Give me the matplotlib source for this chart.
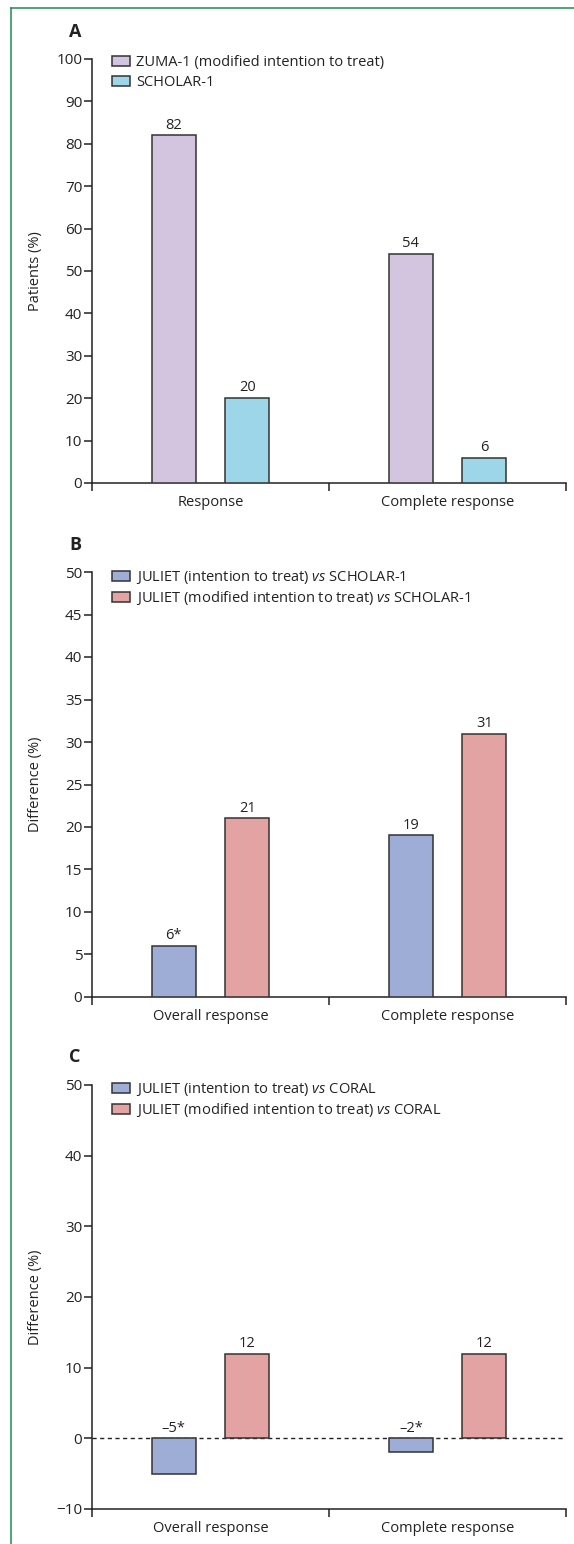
import numpy as np
import matplotlib
matplotlib.use('Agg')
import matplotlib.pyplot as plt
from matplotlib.patches import Patch
from matplotlib.lines import Line2D

plt.rcParams['font.family'] = ['Open Sans', 'DejaVu Sans']
plt.rcParams['mathtext.fontset'] = 'custom'
plt.rcParams['mathtext.it'] = 'Open Sans:italic'
plt.rcParams['mathtext.rm'] = 'Open Sans'

# data
cats_a = ['Response', 'Complete response']
zuma = [82, 54]
scholar = [20, 6]
lab_zuma = ['82', '54']
lab_scholar = ['20', '6']

cats_bc = ['Overall response', 'Complete response']
jul_itt_sch = [6, 19]
jul_mitt_sch = [21, 31]
lab_itt_sch = ['6*', '19']
lab_mitt_sch = ['21', '31']

jul_itt_cor = [-5, -2]
jul_mitt_cor = [12, 12]
lab_itt_cor = ['\u20135*', '\u20132*']
lab_mitt_cor = ['12', '12']

leg_a = ['ZUMA-1 (modified intention to treat)', 'SCHOLAR-1']
leg_b = ['JULIET (intention to treat) $\\it{vs}$ SCHOLAR-1',
         'JULIET (modified intention to treat) $\\it{vs}$ SCHOLAR-1']
leg_c = ['JULIET (intention to treat) $\\it{vs}$ CORAL',
         'JULIET (modified intention to treat) $\\it{vs}$ CORAL']

c_purple = '#d3c4e0'
c_cyan = '#9dd6e8'
c_blue = '#9eadd6'
c_pink = '#e3a3a2'
edge = '#333333'
txt = '#222222'
fs = 10.5

W, H = 574, 1544
fig = plt.figure(figsize=(W/100, H/100), dpi=100)

def px_axes(top, bottom):
	return [92/W, 1-bottom/H, 474/W, (bottom-top)/H]

def setup(ax, cats, ylim, step):
	ax.set_xlim(-0.5, 1.5)
	ax.set_ylim(*ylim)
	ax.spines['top'].set_visible(False)
	ax.spines['right'].set_visible(False)
	for s in ('left', 'bottom'):
		ax.spines[s].set_linewidth(1.1)
		ax.spines[s].set_color('#222222')
	ax.set_yticks(np.arange(ylim[0], ylim[1]+0.1, step))
	ax.tick_params(axis='y', length=6, width=1.1, pad=1, labelsize=11, colors=txt)
	ax.set_xticks([-0.5, 0.5, 1.5])
	ax.set_xticklabels(['', '', ''])
	ax.tick_params(axis='x', which='major', length=6, width=1.1, color='#222222')
	ax.set_xticks([0, 1], minor=True)
	ax.set_xticklabels(cats, minor=True)
	ax.tick_params(axis='x', which='minor', length=0, pad=9, labelsize=fs, labelcolor=txt)

def bars(ax, v1, v2, l1, l2, col1, col2):
	x = np.arange(len(v1))
	w = 0.186
	off = 0.155
	ax.bar(x-off, v1, w, color=col1, edgecolor=edge, linewidth=1.1, zorder=3)
	ax.bar(x+off, v2, w, color=col2, edgecolor=edge, linewidth=1.1, zorder=3)
	for xi, v, l in zip(x-off, v1, l1):
		ax.annotate(l, (xi, max(v, 0)), xytext=(0, 2), textcoords='offset points',
			ha='center', va='bottom', fontsize=fs, color=txt)
	for xi, v, l in zip(x+off, v2, l2):
		ax.annotate(l, (xi, max(v, 0)), xytext=(0, 2), textcoords='offset points',
			ha='center', va='bottom', fontsize=fs, color=txt)

def legend(ax, labels, cols, top_px, ax_top, ax_h, sp):
	h = [Patch(facecolor=c, edgecolor=edge, linewidth=1.1) for c in cols]
	y = 1 + (ax_top - top_px)/ax_h
	ax.legend(h, labels, loc='upper left', bbox_to_anchor=(20/474, y), frameon=False,
		borderaxespad=0, borderpad=0, handlelength=1.25, handleheight=0.72,
		handletextpad=0.4, labelspacing=sp, fontsize=fs, labelcolor=txt)

# panel A
axA = fig.add_axes(px_axes(59, 483))
setup(axA, cats_a, (0, 100), 10)
bars(axA, zuma, scholar, lab_zuma, lab_scholar, c_purple, c_cyan)
legend(axA, leg_a, [c_purple, c_cyan], 55, 59, 424, 0.36)

# panel B
axB = fig.add_axes(px_axes(572, 997))
setup(axB, cats_bc, (0, 50), 5)
bars(axB, jul_itt_sch, jul_mitt_sch, lab_itt_sch, lab_mitt_sch, c_blue, c_pink)
legend(axB, leg_b, [c_blue, c_pink], 569, 572, 425, 0.22)

# panel C
axC = fig.add_axes(px_axes(1085, 1509))
setup(axC, cats_bc, (-10, 50), 10)
axC.axhline(0, color='#222222', linewidth=1, linestyle=(0, (3, 2.5)), zorder=2)
bars(axC, jul_itt_cor, jul_mitt_cor, lab_itt_cor, lab_mitt_cor, c_blue, c_pink)
legend(axC, leg_c, [c_blue, c_pink], 1081, 1085, 424, 0.22)

# panel letters and y labels
for lbl, ypx in (('A', 32), ('B', 545), ('C', 1057)):
	fig.text(75/W, 1-ypx/H, lbl, ha='center', va='center', fontsize=13, fontweight='bold', color=txt)
for lbl, ypx in (('Patients (%)', 271), ('Difference (%)', 784), ('Difference (%)', 1297)):
	fig.text(35.5/W, 1-ypx/H, lbl, ha='center', va='center', rotation=90, fontsize=fs, color=txt)

# green frame
green = '#1f8a55'
fig.add_artist(Line2D([10.5/W, 10.5/W], [0, 1-7.5/H], color=green, linewidth=1.1, transform=fig.transFigure))
fig.add_artist(Line2D([10.5/W, 1], [1-7.5/H, 1-7.5/H], color=green, linewidth=1.1, transform=fig.transFigure))

fig.savefig('out.png', dpi=100)
